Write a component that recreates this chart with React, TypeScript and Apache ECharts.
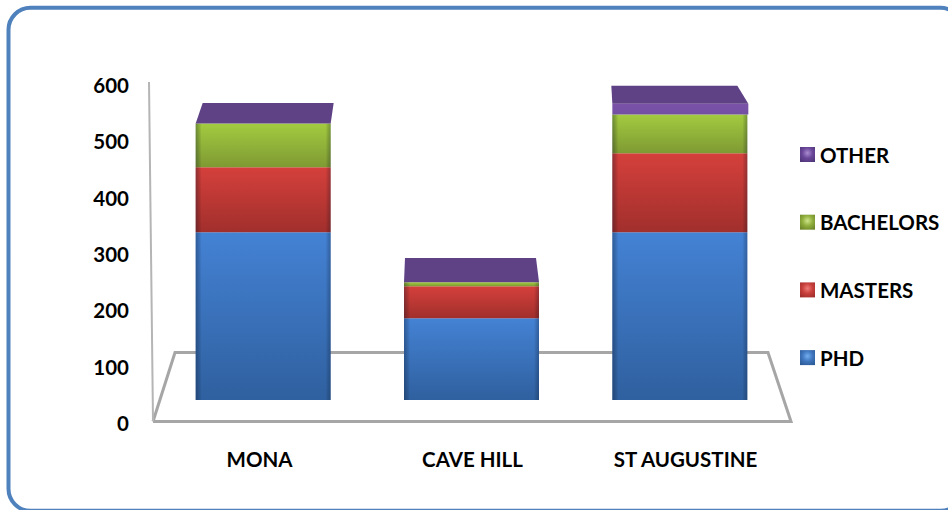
import React, { useEffect, useRef } from "react";
import * as echarts from "echarts";

const categories = ["MONA", "CAVE HILL", "ST AUGUSTINE"];
const yTicks = [0, 100, 200, 300, 400, 500, 600];
const phd = [298, 145, 298];
const masters = [115, 57, 140];
const bachelors = [78, 7, 69];
const other = [36, 43, 51];

const FONT = "Lato, Carlito, Calibri, sans-serif";

function grad(top: string, bottom: string) {
  return new echarts.graphic.LinearGradient(0, 0, 0, 1, [
    { offset: 0, color: top },
    { offset: 1, color: bottom },
  ]);
}
function edge(c: string, reverse: boolean) {
  return new echarts.graphic.LinearGradient(reverse ? 1 : 0, 0, reverse ? 0 : 1, 0, [
    { offset: 0, color: c },
    { offset: 1, color: "rgba(0,0,0,0)" },
  ]);
}
function swatch(light: string, mid: string, dark: string) {
  return new echarts.graphic.RadialGradient(0.5, 0.4, 0.7, [
    { offset: 0, color: light },
    { offset: 0.5, color: mid },
    { offset: 1, color: dark },
  ]);
}

const bases = categories.map((_, i) => ({
  phd: 0,
  masters: phd[i],
  bachelors: phd[i] + masters[i],
  other: phd[i] + masters[i] + bachelors[i],
}));

function face(top: string, bottom: string) {
  return (params: any, api: any) => {
    const cat = api.value(0);
    const lo = api.coord([cat, api.value(1)]);
    const hi = api.coord([cat, api.value(1) + api.value(2)]);
    const w = 135;
    const x = lo[0] - w / 2;
    return {
      type: "group",
      children: [
        { type: "rect", shape: { x, y: hi[1], width: w, height: lo[1] - hi[1] }, style: { fill: grad(top, bottom) } },
        { type: "rect", shape: { x, y: hi[1], width: 6, height: lo[1] - hi[1] }, style: { fill: edge("rgba(10,25,50,0.35)", false) } },
        { type: "rect", shape: { x: x + w - 5, y: hi[1], width: 5, height: lo[1] - hi[1] }, style: { fill: edge("rgba(10,25,50,0.3)", true) } },
      ],
    };
  };
}

function cap(params: any, api: any) {
  const cat = api.value(0);
  const lo = api.coord([cat, api.value(1)]);
  const hi = api.coord([cat, api.value(1) + api.value(2)]);
  const w = 135;
  const x = lo[0] - w / 2;
  let front = hi[1] + 18;
  if (lo[1] - front < 8) front = lo[1];
  const backLeft = [7, 1, -1][cat];
  const backRight = [3, -3, -10][cat];
  const frontRight = [0, 0, 1][cat];
  return {
    type: "group",
    children: [
      {
        type: "rect",
        shape: { x, y: front, width: w + frontRight, height: Math.max(lo[1] - front, 0) },
        style: { fill: grad("#7a52a8", "#7350a2") },
      },
      {
        type: "polygon",
        shape: {
          points: [
            [x, front],
            [x + backLeft, hi[1]],
            [x + w + backRight, hi[1]],
            [x + w + frontRight, front],
          ],
        },
        style: { fill: "#5f4285" },
      },
    ],
  };
}

const legendColors: Record<string, any> = {
  OTHER: swatch("#a98cd0", "#6a479a", "#4f3578"),
  BACHELORS: swatch("#cfe58a", "#8fae3c", "#6b8529"),
  MASTERS: swatch("#ef7a76", "#c73f3b", "#a02e2b"),
  PHD: swatch("#74aef0", "#3f76bd", "#2c5a96"),
};

export default function App() {
  const ref = useRef<HTMLDivElement>(null);
  useEffect(() => {
    document.body.style.margin = "0";
    const chart = echarts.init(ref.current!, undefined, { renderer: "svg" });
    const gray = "#a6a6a6";
    chart.setOption({
      animation: false,
      backgroundColor: "#ffffff",
      textStyle: { fontFamily: FONT },
      grid: [
        { left: 153, top: 85, width: 639, height: 338 },
        { left: 159, top: 62, width: 625, height: 338 },
      ],
      xAxis: [
        {
          type: "category",
          gridIndex: 0,
          data: categories,
          axisLine: { show: false },
          axisTick: { show: false },
          axisLabel: { margin: 25, fontFamily: FONT, fontWeight: "bold", fontSize: 20.5, color: "#000" },
        },
        { type: "category", gridIndex: 1, data: categories, show: false },
      ],
      yAxis: [
        {
          type: "value",
          gridIndex: 0,
          min: 0,
          max: 600,
          interval: 100,
          splitLine: { show: false },
          axisLine: { show: false },
          axisTick: { show: false },
          axisLabel: {
            margin: 24,
            fontFamily: FONT,
            fontWeight: "bold",
            fontSize: 20.5,
            color: "#000",
            formatter: (v: number) => String(yTicks[yTicks.indexOf(v)]),
          },
        },
        { type: "value", gridIndex: 1, min: 0, max: 600, interval: 100, show: false },
      ],
      legend: {
        orient: "vertical",
        left: 795,
        top: 139,
        itemWidth: 15,
        itemHeight: 15,
        itemGap: 46.7,
        icon: "rect",
        selectedMode: false,
        textStyle: { fontFamily: FONT, fontWeight: "bold", fontSize: 20.5, color: "#000" },
        data: ["OTHER", "BACHELORS", "MASTERS", "PHD"].map((name) => ({
          name,
          icon: "rect",
          itemStyle: { color: legendColors[name] },
        })),
      },
      graphic: [
        {
          type: "polyline",
          z: 0,
          silent: true,
          shape: { points: [[153, 421.5], [791, 421.5], [768, 352.5], [175, 352.5], [153, 421.5]] },
          style: { stroke: gray, lineWidth: 3, fill: "none" },
        },
        {
          type: "line",
          z: 0,
          silent: true,
          shape: { x1: 149, y1: 82, x2: 153, y2: 421 },
          style: { stroke: "#b5b5b5", lineWidth: 2 },
        },
        {
          type: "rect",
          z: 0,
          silent: true,
          shape: { x: 8.5, y: 7.8, width: 954, height: 503, r: 22 },
          style: { stroke: "#4f81bd", lineWidth: 4, fill: "none" },
        },
      ],
      series: [
        {
          type: "custom",
          name: "PHD",
          xAxisIndex: 1,
          yAxisIndex: 1,
          itemStyle: { color: "#3f76bd" },
          renderItem: face("#4482d4", "#2f609f"),
          encode: { x: 0, y: [1, 2] },
          data: categories.map((_, i) => [i, bases[i].phd, phd[i]]),
        },
        {
          type: "custom",
          name: "MASTERS",
          xAxisIndex: 1,
          yAxisIndex: 1,
          itemStyle: { color: "#c73f3b" },
          renderItem: face("#d5403c", "#a12f2c"),
          encode: { x: 0, y: [1, 2] },
          data: categories.map((_, i) => [i, bases[i].masters, masters[i]]),
        },
        {
          type: "custom",
          name: "BACHELORS",
          xAxisIndex: 1,
          yAxisIndex: 1,
          itemStyle: { color: "#8fae3c" },
          renderItem: face("#a3cb40", "#7e9a33"),
          encode: { x: 0, y: [1, 2] },
          data: categories.map((_, i) => [i, bases[i].bachelors, bachelors[i]]),
        },
        {
          type: "custom",
          name: "OTHER",
          xAxisIndex: 1,
          yAxisIndex: 1,
          itemStyle: { color: "#6a479a" },
          renderItem: cap,
          encode: { x: 0, y: [1, 2] },
          data: categories.map((_, i) => [i, bases[i].other, other[i]]),
        },
      ],
    });
    return () => chart.dispose();
  }, []);
  return <div ref={ref} style={{ position: "fixed", left: 0, top: 0, width: 948, height: 510 }} />;
}
